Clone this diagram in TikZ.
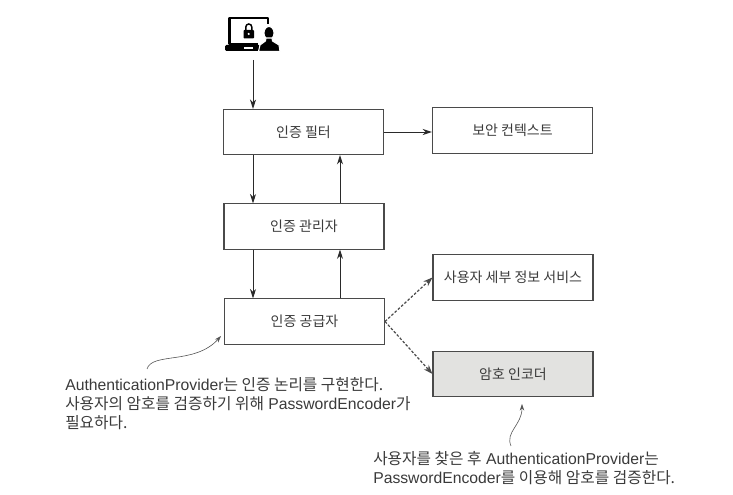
\documentclass[tikz,border=0pt]{standalone}
\usepackage{fontspec}
\setmainfont{Liberation Sans}
\newfontfamily\kr{Noto Sans CJK KR}
\newcommand{\K}[1]{{\kr #1}}
\usetikzlibrary{arrows.meta}
\definecolor{inkc}{HTML}{2A2A2A}
\definecolor{txtc}{HTML}{3A3A3A}
\definecolor{fillc}{HTML}{E2E2E0}
\tikzset{
  box/.style={draw=inkc!85,line width=0.8pt,minimum width=120pt,minimum height=34pt,inner sep=0pt,font=\kr\fontsize{10.5}{12}\selectfont,text=txtc},
  flow/.style={draw=inkc,line width=0.7pt,-{Stealth[length=7pt,width=4.6pt]}},
  dep/.style={draw=inkc!85,line width=0.9pt,dash pattern=on 2pt off 1.3pt,-{Stealth[length=7pt,width=5pt]}},
  note/.style={draw=inkc!80,line width=0.45pt,-{Stealth[length=5pt,width=3.4pt]}},
  captxt/.style={anchor=north west,inner sep=0pt,align=left,text=txtc,font=\fontsize{11.8}{14.2}\selectfont}
}
\begin{document}
\begin{tikzpicture}[x=0.75pt,y=-0.75pt]
\useasboundingbox (0,0) rectangle (733,495);
% boxes
\node[box] (filter) at (303.5,132) {인증 필터};
\node[box] (context) at (512.5,130.5) {보안 컨텍스트};
\node[box] (manager) at (304,226.5) {인증 관리자};
\node[box] (provider) at (304.5,321.5) {인증 공급자};
\node[box] (details) at (513,277.5) {사용자 세부 정보 서비스};
\node[box,fill=fillc] (encoder) at (513,374) {암호 인코더};
% helper verticals and free ends
\coordinate (lft) at (253,0);
\coordinate (rgt) at (340,0);
\coordinate (iconfoot) at (253,60);
\coordinate (noteAend) at (147,369);
\coordinate (noteAtip) at (221,336);
\coordinate (noteBend) at (511,446);
\coordinate (noteBtip) at (522,404);
% icon: laptop
\draw[black,line width=2.2pt,line join=round] (268,24) -- (268,18) -- (229.5,18) -- (229.5,44) -- (258,44);
\fill[black,rounded corners=1pt] (225,45) -- (260,45) -- (260,51) -- (225,51) -- cycle;
\fill[white] (244,46.8) rectangle (253,48.6);
\fill[black,rounded corners=0.6pt] (243.5,30) rectangle (254,38.5);
\draw[black,line width=1.1pt] (245.8,30) -- (245.8,27) arc (180:360:3) -- (251.8,30);
\fill[white] (248.7,34) circle (1.2);
% icon: person
\fill[black,draw=white,line width=0.8pt] (269,33) ellipse (5 and 6.5);
\fill[black,draw=white,line width=0.8pt,line join=round] (266,38) -- (272,38) -- (272.5,41) -- (279,45) -- (280,51.5) -- (258.5,51.5) -- (260,45) -- (265.5,41) -- cycle;
% connectors
\draw[flow] (iconfoot) -- (filter.north -| iconfoot);
\draw[flow] (filter.south -| lft) -- (manager.north -| lft);
\draw[flow] (manager.north -| rgt) -- (filter.south -| rgt);
\draw[flow] (manager.south -| lft) -- (provider.north -| lft);
\draw[flow] (provider.north -| rgt) -- (manager.south -| rgt);
\draw[flow] (filter.east) -- (context.west |- filter.east);
\draw[dep] (provider.east) -- (details.west);
\draw[dep] (provider.east) -- (encoder.west);
% notes
\node[captxt] (noteA) at (65,377) {AuthenticationProvider\K{는 인증 논리를 구현한다.}\\\K{사용자의 암호를 검증하기 위해} PasswordEncoder\K{가}\\\K{필요하다.}};
\node[captxt] (noteB) at (373,451) {\K{사용자를 찾은 후} AuthenticationProvider\K{는}\\PasswordEncoder\K{를 이용해 암호를 검증한다.}};
\draw[note] (noteAend) .. controls (152,352) and (195,365) .. (noteAtip);
\draw[note] (noteBend) .. controls (505,432) and (522,425) .. (noteBtip);
\end{tikzpicture}
\end{document}
